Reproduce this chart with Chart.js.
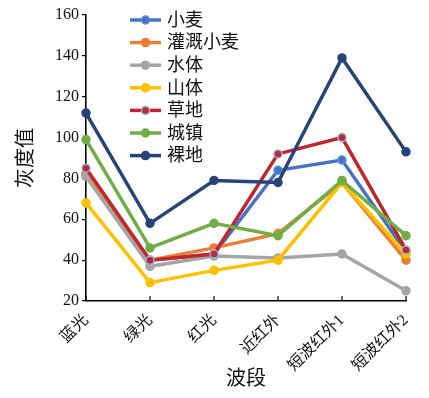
<!DOCTYPE html>
<html>
<head>
<meta charset="utf-8">
<script src="https://cdn.jsdelivr.net/npm/chart.js@4"></script>
<style>
  html, body { margin: 0; padding: 0; background: #fff; }
  #wrap { width: 429px; height: 398px; }
</style>
</head>
<body>
<div id="wrap"><canvas id="grafico" width="429" height="398"></canvas></div>
<script>
// categorias e valores
const categorias = ['蓝光', '绿光', '红光', '近红外', '短波红外1', '短波红外2'];
const seriesNomes = ['小麦', '灌溉小麦', '水体', '山体', '草地', '城镇', '裸地'];
const xiaomai   = [82, 40, 43, 84, 89, 44];
const guangai   = [82, 40, 46, 53, 78, 40];
const shuiti    = [81, 37, 42, 41, 43, 25];
const shanti    = [68, 29, 35, 40, 78, 43];
const caodi     = [85, 40, 43, 92, 100, 45];
const chengzhen = [99, 46, 58, 52, 79, 52];
const luodi     = [112, 58, 79, 78, 139, 93];
const yTicks = [20, 40, 60, 80, 100, 120, 140, 160];

const valores = [xiaomai, guangai, shuiti, shanti, caodi, chengzhen, luodi];
const cores = ['#4472C4', '#ED7D31', '#A5A5A5', '#FFC000', '#C0262D', '#70AD47', '#264478'];
const coresBorda = ['#5B8BD8', '#ED7D31', '#A5A5A5', '#FFC000', '#8DB4E2', '#70AD47', '#264478'];

const serif = '"Liberation Serif", "Noto Sans CJK SC", serif';

const datasets = valores.map((v, i) => ({
  label: seriesNomes[i],
  data: v,
  borderColor: cores[i],
  backgroundColor: cores[i],
  pointBackgroundColor: cores[i],
  pointBorderColor: coresBorda[i],
  pointBorderWidth: 1.5,
  pointRadius: 4,
  borderWidth: 3.5,
  tension: 0,
  order: valores.length - i
}));

// legenda dentro da área do gráfico
const legendaPlugin = {
  id: 'legenda',
  afterDraw(chart) {
    const c = chart.ctx;
    c.save();
    chart.data.datasets.forEach((ds, i) => {
      const y = 20 + i * 22.6;
      c.strokeStyle = ds.borderColor;
      c.lineWidth = 3.5;
      c.beginPath();
      c.moveTo(130, y);
      c.lineTo(161, y);
      c.stroke();
      c.fillStyle = ds.pointBackgroundColor;
      c.strokeStyle = ds.pointBorderColor;
      c.lineWidth = 1.5;
      c.beginPath();
      c.arc(145.5, y, 4, 0, Math.PI * 2);
      c.fill();
      c.stroke();
      c.fillStyle = '#111';
      c.font = '18px ' + serif;
      c.textBaseline = 'middle';
      c.fillText(ds.label, 167, y + 1);
    });
    c.restore();
  }
};

// marcas do eixo x voltadas para dentro
const marcasX = {
  id: 'marcasX',
  afterDraw(chart) {
    const c = chart.ctx;
    const x = chart.scales.x;
    const base = chart.chartArea.bottom;
    c.save();
    c.strokeStyle = '#000';
    c.lineWidth = 1.2;
    categorias.forEach((_, i) => {
      const px = x.getPixelForValue(i);
      c.beginPath();
      c.moveTo(px, base);
      c.lineTo(px, base - 5);
      c.stroke();
    });
    c.restore();
  }
};

const ctx = document.getElementById('grafico').getContext('2d');
const grafico = new Chart(ctx, {
  type: 'line',
  data: { labels: categorias, datasets: datasets },
  options: {
    responsive: false,
    animation: false,
    layout: { padding: { top: 15, right: 23, left: 0, bottom: 0 } },
    plugins: { legend: { display: false }, tooltip: { enabled: false } },
    scales: {
      x: {
        offset: false,
        grid: { display: false },
        border: { display: true, color: '#000', width: 1.6 },
        ticks: {
          color: '#111',
          font: { family: serif, size: 16 },
          minRotation: 45,
          maxRotation: 45,
          padding: 2
        },
        title: {
          display: true,
          text: '波段',
          color: '#111',
          font: { family: serif, size: 20 },
          padding: { top: 0, bottom: 6 }
        },
        afterFit(scale) { scale.height = 97; }
      },
      y: {
        min: 20,
        max: 160,
        afterBuildTicks(scale) { scale.ticks = yTicks.map(v => ({ value: v })); },
        grid: { drawOnChartArea: false, drawTicks: true, tickLength: 4, color: '#000', lineWidth: 1.2 },
        border: { display: true, color: '#000', width: 1.6 },
        ticks: {
          color: '#111',
          font: { family: serif, size: 16 },
          padding: 3
        },
        title: {
          display: true,
          text: '灰度值',
          color: '#111',
          font: { family: serif, size: 20 },
          padding: { top: 15, bottom: 0 }
        },
        afterFit(scale) { scale.width = 86; }
      }
    }
  },
  plugins: [legendaPlugin, marcasX]
});
</script>
</body>
</html>
